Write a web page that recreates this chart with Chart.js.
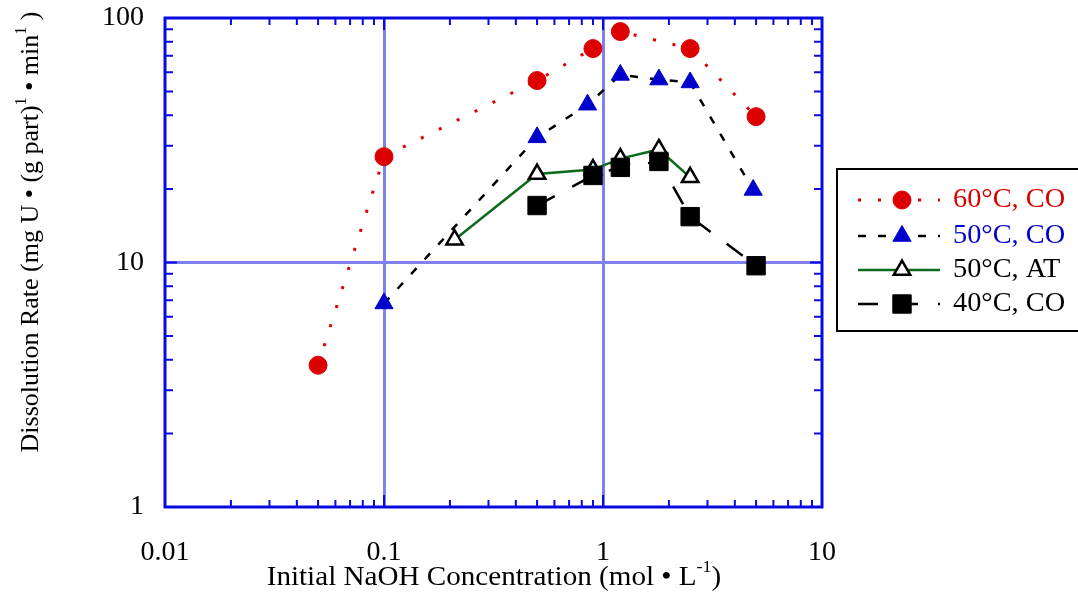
<!DOCTYPE html>
<html>
<head>
<meta charset="utf-8">
<script src="https://cdn.jsdelivr.net/npm/chart.js@4.4.0/dist/chart.umd.min.js"></script>
<style>
  html, body { margin: 0; padding: 0; background: #fff; }
  canvas { display: block; }
</style>
</head>
<body>
<canvas id="chart" width="1078" height="596"></canvas>
<script>
// axis ticks (log decades)
const xDecades = [0.01, 0.1, 1, 10];
const xTickLabels = ['0.01', '0.1', '1', '10'];
const yDecades = [1, 10, 100];
const yTickLabels = ['1', '10', '100'];

// series
const seriesNames = ['60°C, CO', '50°C, CO', '50°C, AT', '40°C, CO'];
const conc60CO = [0.05, 0.1, 0.5, 0.9, 1.2, 2.5, 5];
const rate60CO = [3.8, 27.1, 55.5, 75, 88, 75, 39.5];
const conc50CO = [0.1, 0.5, 0.85, 1.2, 1.8, 2.5, 4.85];
const rate50CO = [6.8, 32.5, 44.2, 58.5, 56, 54.5, 19.8];
const conc50AT = [0.21, 0.5, 0.9, 1.2, 1.8, 2.5];
const rate50AT = [12.4, 23, 24, 26.6, 29, 22.3];
const conc40CO = [0.5, 0.9, 1.2, 1.8, 2.5, 5];
const rate40CO = [17.1, 22.7, 24.5, 25.9, 15.4, 9.7];

const FONT = "'Liberation Serif', 'Times New Roman', serif";
const FRAME = '#0a0ae0';
const GRID = 'rgb(128,128,238)';

const toPoints = (xs, ys) => xs.map((v, i) => ({ x: v, y: ys[i] }));

// draws text with superscript parts
function richText(ctx, parts, size, x, y, align, stretch) {
  const widths = parts.map(p => {
    ctx.font = (p.sup ? size * 0.62 : size) + 'px ' + FONT;
    return ctx.measureText(p.t).width;
  });
  const total = widths.reduce((a, b) => a + b, 0);
  ctx.save();
  ctx.translate(x, y);
  ctx.scale(stretch, 1);
  let cx = align === 'center' ? -total / 2 : 0;
  ctx.textBaseline = 'middle';
  ctx.textAlign = 'left';
  parts.forEach((p, i) => {
    ctx.font = (p.sup ? size * 0.62 : size) + 'px ' + FONT;
    ctx.fillText(p.t, cx, p.sup ? -size * 0.36 : 0);
    cx += widths[i];
  });
  ctx.restore();
}

const framePlugin = {
  id: 'frame',
  afterDraw(chart) {
    const { ctx, chartArea: a, scales: { x, y } } = chart;
    ctx.save();
    // inward ticks on all four sides
    ctx.strokeStyle = FRAME;
    ctx.lineWidth = 2;
    ctx.beginPath();
    xDecades.forEach((d, i) => {
      const last = i === xDecades.length - 1;
      for (let k = 1; k <= (last ? 1 : 9); k++) {
        const px = x.getPixelForValue(d * k);
        const len = k === 1 ? 12 : 7;
        ctx.moveTo(px, a.bottom); ctx.lineTo(px, a.bottom - len);
        ctx.moveTo(px, a.top); ctx.lineTo(px, a.top + len);
      }
    });
    yDecades.forEach((d, i) => {
      const last = i === yDecades.length - 1;
      for (let k = 1; k <= (last ? 1 : 9); k++) {
        const py = y.getPixelForValue(d * k);
        const len = k === 1 ? 12 : 8;
        ctx.moveTo(a.left, py); ctx.lineTo(a.left + len, py);
        ctx.moveTo(a.right, py); ctx.lineTo(a.right - len, py);
      }
    });
    ctx.stroke();
    ctx.lineWidth = 3;
    ctx.strokeRect(a.left, a.top, a.right - a.left, a.bottom - a.top);

    // axis titles
    ctx.fillStyle = '#000';
    richText(ctx, [
      { t: 'Initial NaOH Concentration (mol \u2022 L' }, { t: '-1', sup: true }, { t: ')' }
    ], 28, 494, 578, 'center', 1.04);
    ctx.save();
    ctx.translate(31, 232);
    ctx.rotate(-Math.PI / 2);
    richText(ctx, [
      { t: 'Dissolution Rate (mg U \u2022 (g part)' }, { t: '1', sup: true },
      { t: ' \u2022 min' }, { t: '1', sup: true }, { t: ' )' }
    ], 26, 0, 0, 'center', 1.0);
    ctx.restore();

    // legend
    const lx = 837, ly = 169, rowY = [200, 236, 270, 304];
    ctx.strokeStyle = '#000';
    ctx.lineWidth = 2;
    ctx.strokeRect(lx, ly, 260, 162);
    const textColors = ['#dd0000', '#0000cc', '#000', '#000'];
    chart.data.datasets.forEach((ds, i) => {
      const yy = rowY[i];
      ctx.save();
      ctx.strokeStyle = ds.borderColor;
      ctx.lineWidth = ds.borderWidth;
      ctx.setLineDash(ds.borderDash || []);
      ctx.lineCap = 'butt';
      ctx.beginPath();
      ctx.moveTo(858, yy); ctx.lineTo(940, yy);
      ctx.stroke();
      ctx.restore();
      ctx.save();
      ctx.fillStyle = ds.pointBackgroundColor;
      ctx.strokeStyle = ds.pointBorderColor;
      ctx.lineWidth = ds.pointBorderWidth;
      Chart.helpers.drawPoint(ctx, {
        pointStyle: ds.pointStyle, radius: ds.pointRadius,
        borderWidth: ds.pointBorderWidth, rotation: 0
      }, 902, yy);
      ctx.restore();
      ctx.fillStyle = textColors[i];
      richText(ctx, [{ t: seriesNames[i] }], 27, 953, yy, 'left', 1.05);
    });
    ctx.restore();
  }
};

new Chart(document.getElementById('chart'), {
  type: 'line',
  data: {
    datasets: [
      {
        label: seriesNames[0], data: toPoints(conc60CO, rate60CO), order: 3,
        borderColor: '#e00000', borderWidth: 3, borderDash: [3, 17],
        pointStyle: 'circle', pointRadius: 9, pointBorderWidth: 1,
        pointBackgroundColor: '#dd0000', pointBorderColor: '#dd0000'
      },
      {
        label: seriesNames[1], data: toPoints(conc50CO, rate50CO), order: 2,
        borderColor: '#000', borderWidth: 2.5, borderDash: [8, 12],
        pointStyle: 'triangle', pointRadius: 10.5, pointBorderWidth: 1,
        pointBackgroundColor: '#0000cc', pointBorderColor: '#0000cc'
      },
      {
        label: seriesNames[2], data: toPoints(conc50AT, rate50AT), order: 1,
        borderColor: '#0b6a1c', borderWidth: 2.5, borderDash: [],
        pointStyle: 'triangle', pointRadius: 9.5, pointBorderWidth: 2.5,
        pointBackgroundColor: '#fff', pointBorderColor: '#000'
      },
      {
        label: seriesNames[3], data: toPoints(conc40CO, rate40CO), order: 0,
        borderColor: '#000', borderWidth: 2.5, borderDash: [20, 20],
        pointStyle: 'rect', pointRadius: 13, pointBorderWidth: 1,
        pointBackgroundColor: '#000', pointBorderColor: '#000'
      }
    ]
  },
  options: {
    responsive: false,
    animation: false,
    devicePixelRatio: 1,
    layout: { autoPadding: false, padding: { left: 0, top: 18, right: 256, bottom: 0 } },
    plugins: { legend: { display: false }, tooltip: { enabled: false } },
    elements: { line: { tension: 0, fill: false } },
    scales: {
      x: {
        type: 'logarithmic', min: 0.01, max: 10,
        afterBuildTicks: s => { s.ticks = xDecades.map(v => ({ value: v })); },
        afterFit: s => {
          s.height = 596 - 507;
          s.paddingLeft = 0; s.paddingRight = 0;
        },
        ticks: {
          callback: (v, i) => xTickLabels[i], autoSkip: false, maxRotation: 0,
          font: { family: FONT, size: 28 }, color: '#000', padding: 29
        },
        grid: {
          drawTicks: false, lineWidth: 3,
          color: c => (c.tick && (c.tick.value === 0.1 || c.tick.value === 1)) ? GRID : 'rgba(0,0,0,0)'
        },
        border: { display: false }
      },
      y: {
        type: 'logarithmic', min: 1, max: 100,
        afterBuildTicks: s => { s.ticks = yDecades.map(v => ({ value: v })); },
        afterFit: s => {
          s.width = 165;
          s.paddingTop = 0; s.paddingBottom = 0;
        },
        ticks: {
          callback: (v, i) => yTickLabels[i], autoSkip: false,
          font: { family: FONT, size: 28 }, color: '#000', padding: 21
        },
        grid: {
          drawTicks: false, lineWidth: 3,
          color: c => (c.tick && c.tick.value === 10) ? GRID : 'rgba(0,0,0,0)'
        },
        border: { display: false }
      }
    }
  },
  plugins: [framePlugin]
});
</script>
</body>
</html>
